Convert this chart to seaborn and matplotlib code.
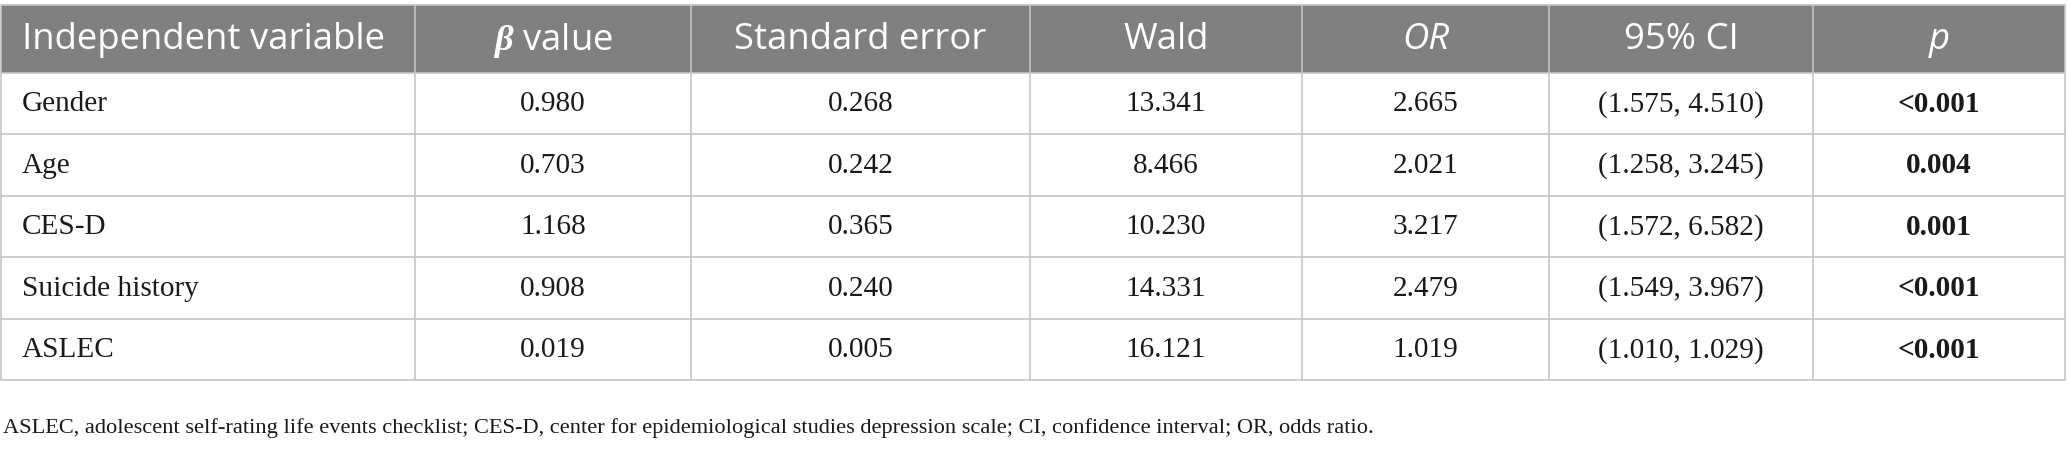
import matplotlib
matplotlib.use("Agg")
import matplotlib.pyplot as plt
import seaborn as sns

# ---- data ----
variables = ["Gender", "Age", "CES-D", "Suicide history", "ASLEC"]
beta = ["0.980", "0.703", "1.168", "0.908", "0.019"]
std_err = ["0.268", "0.242", "0.365", "0.240", "0.005"]
wald = ["13.341", "8.466", "10.230", "14.331", "16.121"]
odds_ratio = ["2.665", "2.021", "3.217", "2.479", "1.019"]
ci_low = ["1.575", "1.258", "1.572", "1.549", "1.010"]
ci_high = ["4.510", "3.245", "6.582", "3.967", "1.029"]
p_values = ["<0.001", "0.004", "0.001", "<0.001", "<0.001"]
headers = ["Independent variable", r"$\beta$ value", "Standard error", "Wald", "OR", "95% CI", "p"]
header_italic = [False, False, False, False, True, False, True]
footnote = ("ASLEC, adolescent self-rating life events checklist; CES-D, center for epidemiological "
            "studies depression scale; CI, confidence interval; OR, odds ratio.")

sns.set_theme(style="white")
plt.rcParams["mathtext.fontset"] = "custom"
plt.rcParams["mathtext.it"] = "Liberation Serif:italic:bold"
plt.rcParams["mathtext.rm"] = "Open Sans"

W, H = 2067, 457
fig = plt.figure(figsize=(W / 100, H / 100), dpi=100)
ax = fig.add_axes([0, 0, 1, 1])
ax.set_xlim(0, W)
ax.set_ylim(H, 0)
ax.axis("off")

col_edges = [1, 415, 691, 1030, 1302, 1549, 1813, 2065]
head_top, head_bot = 4.5, 72.5
row_h = 61.5
n_rows = len(variables)
row_edges = [head_bot + i * row_h for i in range(n_rows + 1)]

def px2pt(px):
    return px * 72 / 100

# header background
ax.fill_between([col_edges[0], col_edges[-1]], head_top, head_bot, color="#808080", lw=0, zorder=1)
grid_c = "#c4c4c4"
lw = px2pt(1.6)
# borders
ax.plot([col_edges[0], col_edges[-1]], [head_top, head_top], color=grid_c, lw=lw, zorder=3)
for y in row_edges:
    ax.plot([col_edges[0], col_edges[-1]], [y, y], color=grid_c, lw=lw, zorder=3)
for x in col_edges:
    ax.plot([x, x], [head_top, row_edges[-1]], color=grid_c, lw=lw, zorder=3)

head_fs = px2pt(36.5)
body_fs = px2pt(29.3)
foot_fs = px2pt(22.4)
head_y = (head_top + head_bot) / 2 + 1.5

for j, h in enumerate(headers):
    if j == 0:
        x, ha = 22, "left"
    else:
        x, ha = (col_edges[j] + col_edges[j + 1]) / 2, "center"
    ax.text(x, head_y, h, ha=ha, va="center", color="white", fontsize=head_fs,
            family="Open Sans", style="italic" if header_italic[j] else "normal", zorder=4)

cols = [beta, std_err, wald, odds_ratio,
        ["(" + a + ", " + b + ")" for a, b in zip(ci_low, ci_high)], p_values]
for i in range(n_rows):
    yc = (row_edges[i] + row_edges[i + 1]) / 2 + 1
    ax.text(22, yc, variables[i], ha="left", va="center", fontsize=body_fs,
            family="Liberation Serif", color="#1a1a1a", zorder=4)
    for j, col in enumerate(cols, start=1):
        xc = (col_edges[j] + col_edges[j + 1]) / 2
        bold = (j == len(cols))
        ax.text(xc, yc, col[i], ha="center", va="center", fontsize=body_fs,
                family="Liberation Serif", weight="bold" if bold else "normal",
                color="#1a1a1a", zorder=4)

ax.text(3, 428, footnote, ha="left", va="center", fontsize=foot_fs,
        family="Liberation Serif", color="#1a1a1a")

fig.savefig("out.png", dpi=100, facecolor="white")
